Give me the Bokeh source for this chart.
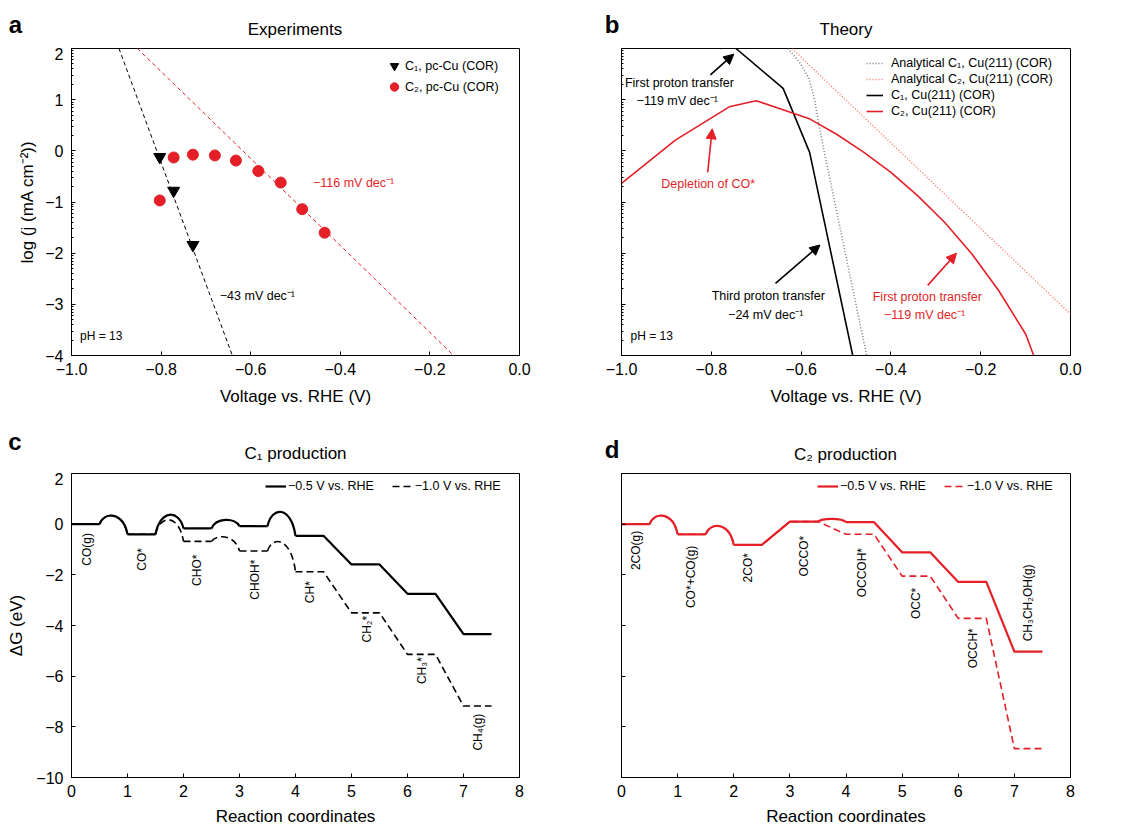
import math
from bokeh.plotting import figure
from bokeh.models import (Range1d, FixedTicker, CustomJSTickFormatter, Label, Arrow,
                          NormalHead, Legend, LegendItem)
from bokeh.layouts import column, row
from bokeh.embed import file_html
from bokeh.resources import INLINE
from bokeh.core.properties import value

FONT = "Liberation Sans"
RED = "#e41f27"
SALMON = "#ff7766"
GRAY = "#7a7a7a"

# ---------------- panel a : experiments ----------------
a_c1_v = [-0.803, -0.772, -0.729]
a_c1_logj = [-0.12, -0.78, -1.84]
a_c2_v = [-0.803, -0.772, -0.729, -0.680, -0.633, -0.583, -0.533, -0.485, -0.435]
a_c2_logj = [-0.97, -0.13, -0.075, -0.09, -0.19, -0.395, -0.62, -1.14, -1.60]
a_c1_fit_v = [-0.894, -0.641]
a_c1_fit_logj = [2.0, -4.0]
a_c2_fit_v = [-0.853, -0.147]
a_c2_fit_logj = [2.0, -4.0]

# ---------------- panel b : theory ----------------
b_c1_v = [-0.745, -0.640, -0.581, -0.485]
b_c1_logj = [2.0, 1.22, -0.03, -4.0]
b_c2_v = [-1.0, -0.88, -0.76, -0.70, -0.58, -0.52, -0.46, -0.40, -0.34, -0.28, -0.22, -0.16, -0.10, -0.082]
b_c2_logj = [-0.635, 0.21, 0.86, 0.98, 0.62, 0.32, -0.03, -0.42, -0.88, -1.40, -2.01, -2.73, -3.58, -4.0]
b_an_c1_v = [-0.629, -0.605, -0.583, -0.570, -0.560, -0.549, -0.454]
b_an_c1_logj = [2.0, 1.75, 1.43, 1.0, 0.5, 0.0, -4.0]
b_an_c2_v = [-0.620, -0.580, 0.0]
b_an_c2_logj = [2.0, 1.66, -3.19]

v_ticks = [-1.0, -0.8, -0.6, -0.4, -0.2, 0.0]
v_tick_labels = ["\u22121.0", "\u22120.8", "\u22120.6", "\u22120.4", "\u22120.2", "0.0"]
logj_ticks = [-4, -3, -2, -1, 0, 1, 2]
logj_tick_labels = ["\u22124", "\u22123", "\u22122", "\u22121", "0", "1", "2"]

# ---------------- panels c, d : free energy diagrams ----------------
c_states = ["CO(g)", "CO*", "CHO*", "CHOH*", "CH*", "CH\u2082*", "CH\u2083*", "CH\u2084(g)"]
c_dg_05 = [0.0, -0.40, -0.17, -0.08, -0.46, -1.59, -2.75, -4.34]
c_dg_10 = [0.0, -0.40, -0.68, -1.06, -1.88, -3.50, -5.14, -7.18]
c_ts_05 = [0.33, 0.37, 0.17, 0.48, None, None, None]
c_ts_10 = [0.33, 0.17, -0.51, -0.72, None, None, None]
c_label_x = [0.27, 1.26, 2.24, 3.27, 4.25, 5.27, 6.26, 7.25]
c_label_top = [-0.35, -0.94, -1.20, -1.40, -2.25, -3.62, -5.25, -7.48]

d_states = ["2CO(g)", "CO*+CO(g)", "2CO*", "OCCO*", "OCCOH*", "OCC*", "OCCH*", "CH\u2083CH\u2082OH(g)"]
d_dg_05 = [0.0, -0.40, -0.82, 0.10, 0.08, -1.11, -2.28, -5.03]
d_dg_10 = [0.0, -0.40, -0.82, 0.10, -0.40, -2.05, -3.72, -8.86]
d_ts_05 = [0.33, -0.08, None, 0.21, None, None, None]
d_ts_10 = [0.33, -0.08, None, None, None, None, None]
d_label_x = [0.25, 1.23, 2.25, 3.25, 4.29, 5.24, 6.27, 7.25]
d_label_top = [-0.26, -0.85, -1.14, -0.46, -0.94, -2.51, -4.11, -1.59]

rc_ticks = [0, 1, 2, 3, 4, 5, 6, 7, 8]
rc_tick_labels = ["0", "1", "2", "3", "4", "5", "6", "7", "8"]
dg_ticks = [-10, -8, -6, -4, -2, 0, 2]
dg_tick_labels = ["\u221210", "\u22128", "\u22126", "\u22124", "\u22122", "0", "2"]

panel_titles = ["Experiments", "Theory", "C\u2081 production", "C\u2082 production"]
panel_letters = ["a", "b", "c", "d"]

TOTAL_W = 1115


def fmt(ticks, labels):
    return CustomJSTickFormatter(args=dict(t=ticks, l=labels),
                                 code="const i = t.indexOf(tick); return i >= 0 ? l[i] : '';")


def make_fig(w, h, bl, br, bt, bb, xr, yr, xstand, xlabstand):
    p = figure(width=w, height=h, x_range=Range1d(*xr), y_range=Range1d(*yr), title=None,
               toolbar_location=None, tools="", output_backend="svg",
               min_border_left=bl, min_border_right=br, min_border_top=bt, min_border_bottom=bb)
    p.grid.visible = False
    p.outline_line_color = "black"
    p.outline_line_width = 1
    p.outline_line_alpha = 1
    for ax in (p.xaxis[0], p.yaxis[0]):
        ax.major_tick_in = 4
        ax.major_tick_out = 0
        ax.minor_tick_in = 2
        ax.minor_tick_out = 0
        ax.axis_line_color = "black"
        ax.major_tick_line_color = "black"
        ax.minor_tick_line_color = "black"
        ax.major_label_text_font = FONT
        ax.major_label_text_font_size = "16px"
        ax.major_label_text_color = "black"
        ax.axis_label_text_font = FONT
        ax.axis_label_text_font_size = "17px"
        ax.axis_label_text_font_style = "normal"
        ax.axis_label_text_color = "black"
    p.xaxis.major_label_standoff = xstand
    p.xaxis.axis_label_standoff = xlabstand
    p.yaxis.major_label_standoff = 8
    p.yaxis.axis_label_standoff = 5
    return p


def header(h, items):
    """A strip above a row of panels holding the panel letters and titles."""
    f = figure(width=TOTAL_W, height=h, x_range=Range1d(0, TOTAL_W), y_range=Range1d(h, 0),
               title=None, toolbar_location=None, tools="", output_backend="svg",
               x_axis_location=None, y_axis_location=None,
               min_border_left=0, min_border_right=0, min_border_top=0, min_border_bottom=0)
    f.outline_line_color = None
    f.grid.visible = False
    for x, y, txt, bold in items:
        f.add_layout(Label(x=x, y=y, text=txt, text_font=FONT,
                           text_font_size="24px" if bold else "17px",
                           text_font_style="bold" if bold else "normal",
                           text_color="black", text_align="center",
                           text_baseline="alphabetic"))
    return f


def note(p, x, y, txt, color="black", align="center", size="12.5px"):
    p.add_layout(Label(x=x, y=y, text=txt, text_font=FONT, text_font_size=size,
                       text_color=color, text_align=align, text_baseline="middle"))


def arrow(p, x0, y0, x1, y1, color):
    p.add_layout(Arrow(x_start=x0, y_start=y0, x_end=x1, y_end=y1, line_color=color,
                       line_width=1.6,
                       end=NormalHead(size=10, fill_color=color, line_color=color)))


def legend(items, loc, horizontal=False, lh=20, gw=16, gh=20, stand=2, spacing=1):
    return Legend(items=items, location=loc,
                  orientation="horizontal" if horizontal else "vertical",
                  border_line_color=None, background_fill_alpha=0, padding=0, margin=0,
                  spacing=spacing, label_height=lh, glyph_height=gh, glyph_width=gw,
                  label_standoff=stand, label_text_font=FONT, label_text_font_size="12.5px",
                  label_text_color="black")


log_minor = [n + math.log10(k) for n in range(-4, 2) for k in range(2, 10)]

# ================= header rows =================
h1 = header(47, [(15, 23.5, panel_letters[0], True),
                 (294.5, 29, panel_titles[0], False),
                 (611.7, 24, panel_letters[1], True),
                 (845.5, 29, panel_titles[1], False)])
h2 = header(52, [(14.5, 20.5, panel_letters[2], True),
                 (295, 33, panel_titles[2], False),
                 (611.7, 29, panel_letters[3], True),
                 (845, 33.5, panel_titles[3], False)])

# ================= panel a =================
pa = make_fig(565, 373, 71, 46, 1, 65, (-1.0, 0.0), (-4.0, 2.0), 7, 9)
pa.xaxis.ticker = FixedTicker(ticks=v_ticks, minor_ticks=[])
pa.xaxis.formatter = fmt(v_ticks, v_tick_labels)
pa.yaxis.ticker = FixedTicker(ticks=logj_ticks, minor_ticks=log_minor)
pa.yaxis.formatter = fmt(logj_ticks, logj_tick_labels)
pa.xaxis.axis_label = "Voltage vs. RHE (V)"
pa.yaxis.axis_label = "log (j (mA cm\u207b\u00b2))"

pa.line(a_c1_fit_v, a_c1_fit_logj, line_color="black", line_dash="4 3", line_width=1)
pa.line(a_c2_fit_v, a_c2_fit_logj, line_color=RED, line_dash="4 3", line_width=1)
r_a1 = pa.scatter(a_c1_v, a_c1_logj, marker="inverted_triangle", size=12,
                  fill_color="black", line_color="black")
r_a2 = pa.scatter(a_c2_v, a_c2_logj, marker="circle", size=11,
                  fill_color=RED, line_color=RED)
pa.add_layout(legend([LegendItem(label="C\u2081, pc-Cu (COR)", renderers=[r_a1]),
                      LegendItem(label="C\u2082, pc-Cu (COR)", renderers=[r_a2])],
                     (312, 258), lh=21, gh=21, gw=22, stand=0, spacing=0))
note(pa, -0.461, -0.62, "\u2212116 mV dec\u207b\u00b9", color=RED, align="left")
note(pa, -0.669, -2.83, "\u221243 mV dec\u207b\u00b9", align="left")
note(pa, -0.981, -3.62, "pH = 13", align="left", size="12px")

# ================= panel b =================
pb = make_fig(550, 373, 56, 45, 1, 65, (-1.0, 0.0), (-4.0, 2.0), 7, 9)
pb.xaxis.ticker = FixedTicker(ticks=v_ticks, minor_ticks=[])
pb.xaxis.formatter = fmt(v_ticks, v_tick_labels)
pb.yaxis.ticker = FixedTicker(ticks=logj_ticks, minor_ticks=log_minor)
pb.yaxis.formatter = fmt(logj_ticks, [""] * len(logj_ticks))
pb.xaxis.axis_label = "Voltage vs. RHE (V)"

r_b3 = pb.line(b_an_c1_v, b_an_c1_logj, line_color=GRAY, line_dash="1 2", line_width=1.5)
r_b4 = pb.line(b_an_c2_v, b_an_c2_logj, line_color=SALMON, line_dash="1 2", line_width=1.5)
r_b1 = pb.line(b_c1_v, b_c1_logj, line_color="black", line_width=1.6)
r_b2 = pb.line(b_c2_v, b_c2_logj, line_color=RED, line_width=1.6)
pb.add_layout(legend([LegendItem(label="Analytical C\u2081, Cu(211) (COR)", renderers=[r_b3]),
                      LegendItem(label="Analytical C\u2082, Cu(211) (COR)", renderers=[r_b4]),
                      LegendItem(label="C\u2081, Cu(211) (COR)", renderers=[r_b1]),
                      LegendItem(label="C\u2082, Cu(211) (COR)", renderers=[r_b2])],
                     (245, 236), lh=16, gh=16, gw=17, stand=8, spacing=0))
arrow(pb, -0.802, 1.486, -0.750, 1.89, "black")
note(pb, -0.871, 1.32, "First proton transfer")
note(pb, -0.872, 0.98, "\u2212119  mV dec\u207b\u00b9")
arrow(pb, -0.808, -0.42, -0.798, 0.43, RED)
note(pb, -0.807, -0.65, "Depletion of CO*", color=RED)
arrow(pb, -0.657, -2.59, -0.558, -1.84, "black")
note(pb, -0.673, -2.84, "Third proton transfer")
note(pb, -0.675, -3.20, "\u221224  mV dec\u207b\u00b9")
arrow(pb, -0.318, -2.63, -0.254, -2.0, RED)
note(pb, -0.319, -2.86, "First proton transfer", color=RED)
note(pb, -0.321, -3.20, "\u2212119  mV dec\u207b\u00b9", color=RED)
note(pb, -0.98, -3.62, "pH = 13", align="left", size="12px")


# ================= energy diagram helper =================
def energy_path(p, levels, ts, color, dash, width):
    xs, ys = [], []
    cx, cy = [0.0, 0.5], [levels[0], levels[0]]
    bz = dict(x0=[], y0=[], x1=[], y1=[], cx0=[], cy0=[], cx1=[], cy1=[])
    for i in range(len(levels) - 1):
        if ts[i] is None:
            cx += [i + 1.0, i + 1.5]
            cy += [levels[i + 1], levels[i + 1]]
        else:
            xs.append(cx)
            ys.append(cy)
            a, b, h = levels[i], levels[i + 1], ts[i]
            c = (h - (a + b) / 8.0) / 0.75
            bz["x0"].append(i + 0.5); bz["y0"].append(a)
            bz["x1"].append(i + 1.0); bz["y1"].append(b)
            bz["cx0"].append(i + 0.58); bz["cy0"].append(c)
            bz["cx1"].append(i + 0.92); bz["cy1"].append(c)
            cx, cy = [i + 1.0, i + 1.5], [levels[i + 1], levels[i + 1]]
    xs.append(cx)
    ys.append(cy)
    kw = dict(line_color=color, line_width=width)
    if dash:
        kw["line_dash"] = dash
    r = p.multi_line(xs, ys, line_join="round", **kw)
    if bz["x0"]:
        p.bezier(**bz, **kw)
    return r


def state_labels(p, xs, tops, names):
    p.text(x=xs, y=tops, text=names, angle=math.pi / 2, text_align="right",
           text_baseline="middle", text_font=value(FONT), text_font_size="12px",
           text_color="black")


def energy_fig(w, bl, br, show_labels):
    p = make_fig(w, 356, bl, br, 1, 49, (0, 8), (-10, 2), 7, 7)
    p.xaxis.ticker = FixedTicker(ticks=rc_ticks, minor_ticks=[])
    p.xaxis.formatter = fmt(rc_ticks, rc_tick_labels)
    p.yaxis.ticker = FixedTicker(ticks=dg_ticks, minor_ticks=[])
    p.yaxis.formatter = fmt(dg_ticks, dg_tick_labels if show_labels else [""] * len(dg_ticks))
    p.xaxis.axis_label = "Reaction coordinates"
    return p


# ================= panel c =================
pc = energy_fig(565, 71, 46, True)
pc.yaxis.axis_label = "\u0394G (eV)"
pc.yaxis.axis_label_standoff = 7
r_c10 = energy_path(pc, c_dg_10, c_ts_10, "black", "7 4", 1.6)
r_c05 = energy_path(pc, c_dg_05, c_ts_05, "black", None, 2.2)
state_labels(pc, c_label_x, c_label_top, c_states)
pc.add_layout(legend([LegendItem(label="\u22120.5 V vs. RHE", renderers=[r_c05]),
                      LegendItem(label="\u22121.0 V vs. RHE", renderers=[r_c10])],
                     (194, 281), horizontal=True, lh=20, gh=20, gw=21, stand=2, spacing=18))

# ================= panel d =================
pd = energy_fig(550, 56, 45, False)
r_d10 = energy_path(pd, d_dg_10, d_ts_10, RED, "7 4", 1.6)
r_d05 = energy_path(pd, d_dg_05, d_ts_05, RED, None, 2.2)
state_labels(pd, d_label_x, d_label_top, d_states)
pd.add_layout(legend([LegendItem(label="\u22120.5 V vs. RHE", renderers=[r_d05]),
                      LegendItem(label="\u22121.0 V vs. RHE", renderers=[r_d10])],
                     (196, 281), horizontal=True, lh=20, gh=20, gw=21, stand=2, spacing=18))

layout = column(h1, row(pa, pb), h2, row(pc, pd))
open("out.html", "w").write(file_html(layout, INLINE))
